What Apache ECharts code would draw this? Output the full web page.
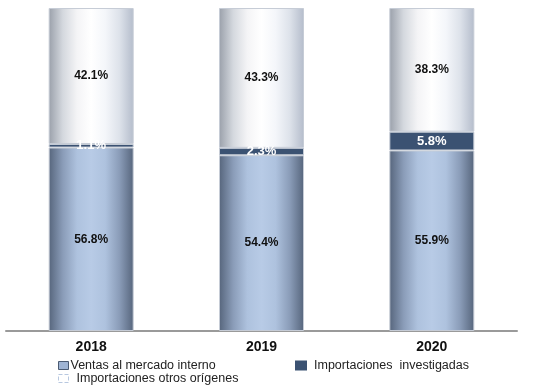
<!DOCTYPE html>
<html><head><meta charset="utf-8">
<script src="https://cdn.jsdelivr.net/npm/echarts@6/dist/echarts.min.js"></script>
<style>html,body{margin:0;padding:0;background:#fff}#c{width:546px;height:386px}</style>
</head><body><div id="c"></div>
<script>
const categories = ['2018', '2019', '2020'];
const ventasMercadoInterno = [56.8, 54.4, 55.9];
const importacionesInvestigadas = [1.1, 2.3, 5.8];
const importacionesOtrosOrigenes = [42.1, 43.3, 38.3];
const seriesNames = ['Ventas al mercado interno', 'Importaciones  investigadas', 'Importaciones otros orígenes'];

const font = '"Liberation Sans", Arial, sans-serif';
function hgrad(stops){
  return new echarts.graphic.LinearGradient(0,0,1,0, stops.map((c,i)=>({offset:i/(stops.length-1), color:c})));
}
const chart = echarts.init(document.getElementById('c'));
const fmt = p => p.value.toFixed(1) + '%';
const legText = {fontFamily:font, fontSize:12.5, color:'#222'};
chart.setOption({
  animation:false,
  grid:{left:6, right:29, top:8, bottom:55},
  xAxis:{type:'category', data:categories,
    axisLine:{lineStyle:{color:'#9a9a9a', width:2}}, axisTick:{show:false},
    axisLabel:{color:'#111', fontWeight:'bold', fontSize:14, fontFamily:font, margin:9}},
  yAxis:{type:'value', min:0, max:100, show:false},
  legend:[
    {left:53, top:354, icon:'rect', itemWidth:10, itemHeight:8, itemGap:4, data:[seriesNames[0]],
      itemStyle:{color:'#9fb4d4', borderColor:'#4a5a72', borderWidth:1},
      textStyle:Object.assign({padding:[0,0,0,-3]}, legText)},
    {left:290, top:354, icon:'rect', itemWidth:10, itemHeight:8, data:[seriesNames[1]],
      itemStyle:{color:'#3b5272', borderColor:'#3b5272'},
      textStyle:Object.assign({padding:[0,0,0,3]}, legText)},
    {left:53, top:367, icon:'rect', itemWidth:10, itemHeight:8, data:[seriesNames[2]],
      itemStyle:{color:'#ffffff', borderColor:'#b8c8e0', borderWidth:1, borderType:'dashed'},
      textStyle:Object.assign({padding:[0,0,0,3]}, legText)}
  ],
  series:[
    {name:seriesNames[0], type:'bar', stack:'s', barWidth:85, data:ventasMercadoInterno,
      itemStyle:{color:hgrad(['#56657c','#8a9cb8','#aec2de','#b8cbe6','#aec2de','#8a9cb8','#56657c']), borderColor:'#c6ccd6', borderWidth:1},
      label:{show:true, position:'inside', formatter:fmt, color:'#111', fontWeight:'bold', fontSize:12, fontFamily:font}},
    {name:seriesNames[1], type:'bar', stack:'s', barWidth:85, data:importacionesInvestigadas,
      itemStyle:{color:'#3b5272', borderColor:'#c6ccd6', borderWidth:1},
      label:{show:true, position:'inside', formatter:fmt, color:'#fff', fontWeight:'bold', fontSize:13, fontFamily:font}},
    {name:seriesNames[2], type:'bar', stack:'s', barWidth:85, data:importacionesOtrosOrigenes,
      itemStyle:{color:hgrad(['#9aa0aa','#d4d8de','#f4f4f6','#ffffff','#f4f6fa','#dde2ea','#b4bccb']), borderColor:'#c6ccd6', borderWidth:1},
      label:{show:true, position:'inside', formatter:fmt, color:'#111', fontWeight:'bold', fontSize:12, fontFamily:font}}
  ]
});
</script></body></html>
